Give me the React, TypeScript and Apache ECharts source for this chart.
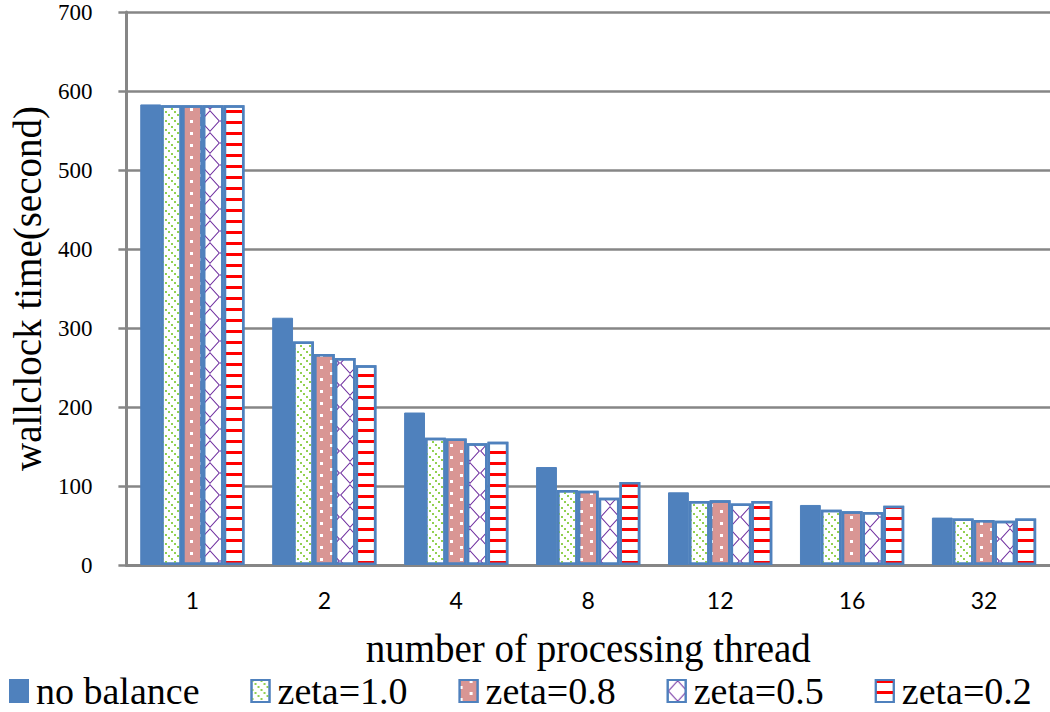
import React, { useEffect, useRef } from "react";
import * as echarts from "echarts";

const categories = ["1", "2", "4", "8", "12", "16", "32"];
const seriesNames = ["no balance", "zeta=1.0", "zeta=0.8", "zeta=0.5", "zeta=0.2"];
const noBalance = [583, 313, 193, 124, 92, 76, 60];
const zeta10 = [582, 283, 161, 95, 81, 70, 59];
const zeta08 = [582, 267, 160, 94, 82, 68, 57];
const zeta05 = [582, 262, 154, 85, 78, 67, 56];
const zeta02 = [582, 253, 156, 105, 81, 75, 59];
const yTicks = { min: 0, max: 700, interval: 100 };

const BLUE = "#4F81BD";
const SERIF = "Liberation Serif";

export default function App() {
  const ref = useRef<HTMLDivElement>(null);
  useEffect(() => {
    document.body.style.margin = "0";
    if (!ref.current) return;
    const chart = echarts.init(ref.current, undefined, { renderer: "svg" });
    const border = { borderColor: BLUE, borderWidth: 2.5 };
    const styles: any[] = [
      { color: BLUE, borderColor: BLUE, borderWidth: 1 },
      {
        color: "#ffffff",
        ...border,
        decal: {
          symbol: "path://M0 0h2v2h-2Z M3 3h2v2h-2Z M6 6h2v2h-2Z",
          symbolSize: 1,
          color: "#92D050",
          backgroundColor: "#ffffff",
          dashArrayX: [8, 1],
          dashArrayY: [8, 1],
          rotation: 0,
        },
      },
      {
        color: "#D99694",
        ...border,
        decal: {
          symbol: "rect",
          symbolSize: 1,
          color: "#ffffff",
          backgroundColor: "#D99694",
          dashArrayX: [[3, 17], [0, 10, 3, 7]],
          dashArrayY: [3, 3],
          rotation: 0,
        },
      },
      {
        color: "#ffffff",
        ...border,
        decal: {
          symbol: "path://M10 0L20 11L10 22L0 11Z M10 1.6L1.4 11L10 20.4L18.6 11Z",
          symbolSize: 1,
          color: "#7030A0",
          backgroundColor: "#ffffff",
          dashArrayX: [20, 0],
          dashArrayY: [22, 0],
          rotation: 0,
        },
      },
      {
        color: "#ffffff",
        ...border,
        decal: {
          symbol: "rect",
          symbolSize: 1,
          color: "#FF0000",
          backgroundColor: "#ffffff",
          dashArrayX: [20, 0],
          dashArrayY: [3, 8],
          rotation: 0,
        },
      },
    ];
    const datasets = [noBalance, zeta10, zeta08, zeta05, zeta02];
    chart.setOption({
      animation: false,
      backgroundColor: "#ffffff",
      textStyle: { fontFamily: SERIF, color: "#000" },
      grid: { left: 118, right: 0, top: 12, bottom: 147, containLabel: false },
      legend: {
        left: 4,
        top: 667,
        itemWidth: 18,
        itemHeight: 22,
        itemGap: 51,
        icon: "rect",
        textStyle: {
          fontSize: 38,
          fontFamily: SERIF,
          color: "#000",
          lineHeight: 38,
          padding: [0, 0, 0, 3],
        },
        data: seriesNames,
      },
      xAxis: {
        type: "category",
        data: categories,
        name: "number of processing thread",
        nameLocation: "middle",
        nameGap: 64,
        nameTextStyle: { fontSize: 39, fontFamily: SERIF, color: "#000" },
        axisLine: { lineStyle: { color: "#868686", width: 3 } },
        axisTick: { show: false },
        axisLabel: { fontSize: 23, fontFamily: "Lato", color: "#000", margin: 23 },
      },
      yAxis: {
        type: "value",
        min: yTicks.min,
        max: yTicks.max,
        interval: yTicks.interval,
        name: "wallclock time(second)",
        nameLocation: "middle",
        nameGap: 79,
        nameTextStyle: { fontSize: 39, fontFamily: SERIF, color: "#000" },
        axisLine: { show: true, lineStyle: { color: "#868686", width: 3 } },
        axisTick: { show: true, length: 8, lineStyle: { color: "#868686", width: 2.5 } },
        splitLine: { lineStyle: { color: "#868686", width: 2.5 } },
        axisLabel: { fontSize: 23, fontFamily: SERIF, color: "#000", margin: 34 },
      },
      series: seriesNames.map((name, i) => ({
        name,
        type: "bar",
        data: datasets[i],
        barGap: "0%",
        barCategoryGap: "21%",
        itemStyle: styles[i],
        emphasis: { disabled: true },
      })),
    });
    return () => chart.dispose();
  }, []);
  return <div ref={ref} style={{ width: 1050, height: 712 }} />;
}
